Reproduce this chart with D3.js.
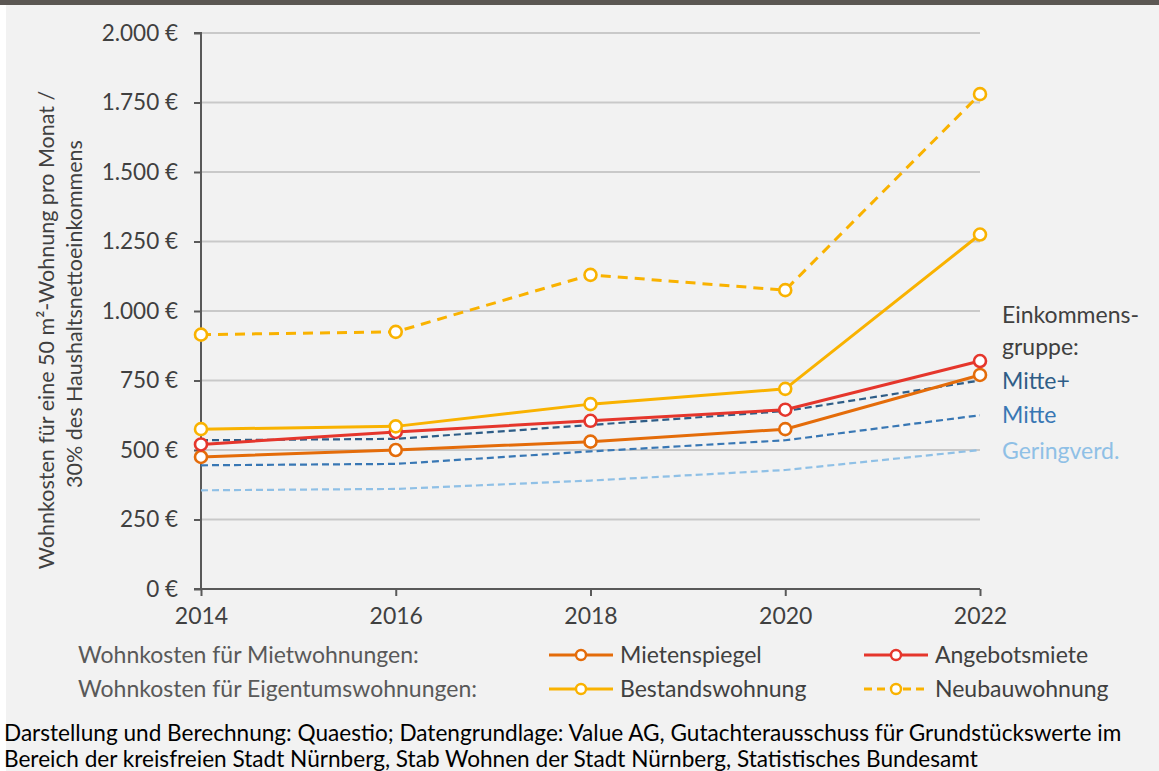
<!DOCTYPE html>
<html><head><meta charset="utf-8">
<script src="https://cdn.jsdelivr.net/npm/d3@7"></script>
<style>
html,body{margin:0;padding:0;background:#fff;}
svg{display:block;}
text{font-family:Lato,"Open Sans",sans-serif;}
</style></head>
<body>
<script>
const years = [2014, 2016, 2018, 2020, 2022];
const yTicks = [0, 250, 500, 750, 1000, 1250, 1500, 1750, 2000];
const neubauwohnung = [915, 925, 1130, 1075, 1780];
const bestandswohnung = [575, 585, 665, 720, 1275];
const angebotsmiete = [520, 565, 605, 645, 820];
const mietenspiegel = [475, 500, 530, 575, 770];
const mittePlus = [535, 540, 590, 640, 750];
const mitte = [445, 450, 495, 535, 625];
const geringverd = [355, 360, 390, 428, 500];
const incomeLabels = ["Mitte+", "Mitte", "Geringverd."];
const incomeTitle = ["Einkommens-", "gruppe:"];
const legendRows = ["Wohnkosten für Mietwohnungen:", "Wohnkosten für Eigentumswohnungen:"];
const yTitle = ["Wohnkosten für eine 50 m²-Wohnung pro Monat /", "30% des Haushaltsnettoeinkommens"];
const footnote = ["Darstellung und Berechnung: Quaestio; Datengrundlage: Value AG, Gutachterausschuss für Grundstückswerte im",
                  "Bereich der kreisfreien Stadt Nürnberg, Stab Wohnen der Stadt Nürnberg, Statistisches Bundesamt"];

const W = 1159, H = 771;
const FS = 23;
const svg = d3.select("body").append("svg").attr("width", W).attr("height", H);
svg.append("rect").attr("x", 0).attr("y", 0).attr("width", W).attr("height", H).attr("fill", "#ffffff");
svg.append("rect").attr("x", 6).attr("y", 0).attr("width", W - 6).attr("height", H).attr("fill", "#f2f2f2");
svg.append("rect").attr("x", 0).attr("y", 0).attr("width", W).attr("height", 5).attr("fill", "#5b5753");

const x = d3.scaleLinear().domain([2014, 2022]).range([201, 980]);
const y = d3.scaleLinear().domain([0, 2000]).range([589, 33]);

// gridlines
svg.append("g").selectAll("line").data(yTicks.filter(d => d > 0)).join("line")
  .attr("x1", 202).attr("x2", 980).attr("y1", d => y(d)).attr("y2", d => y(d))
  .attr("stroke", "#c9c9c9").attr("stroke-width", 2);

// y axis
const yAxis = d3.axisLeft(y).tickValues(yTicks).tickSize(7).tickPadding(16)
  .tickFormat(d => d3.format(",")(d).replace(/,/g, ".") + " €");
const gy = svg.append("g").attr("transform", "translate(201,0)").call(yAxis);
gy.select(".domain").attr("stroke", "#595959").attr("stroke-width", 2).attr("d", "M-7,33H0V589H-7");
gy.selectAll(".tick line").attr("stroke", "#595959").attr("stroke-width", 2);
gy.selectAll(".tick text").attr("font-size", 22.5).attr("fill", "#404040").attr("font-family", "Lato");

// x axis
const xAxis = d3.axisBottom(x).tickValues(years).tickSize(7).tickPadding(12).tickFormat(d3.format("d"));
const gx = svg.append("g").attr("transform", "translate(0,589)").call(xAxis);
gx.select(".domain").attr("stroke", "#595959").attr("stroke-width", 2).attr("d", "M201,0H980");
gx.selectAll(".tick line").attr("stroke", "#595959").attr("stroke-width", 2);
gx.selectAll(".tick text").attr("font-size", FS).attr("fill", "#404040").attr("font-family", "Lato");

// y title
svg.append("text").attr("transform", "translate(54,330) rotate(-90)").attr("text-anchor", "middle")
  .attr("font-size", 21.5).attr("fill", "#404040").text(yTitle[0]);
svg.append("text").attr("transform", "translate(82,314) rotate(-90)").attr("text-anchor", "middle")
  .attr("font-size", 21.5).attr("fill", "#404040").text(yTitle[1]);

const line = d3.line().x((d, i) => x(years[i])).y(d => y(d));

function drawDashed(vals, color) {
  svg.append("path").attr("d", line(vals)).attr("fill", "none").attr("stroke", color)
    .attr("stroke-width", 2.2).attr("stroke-dasharray", "7,4");
}
drawDashed(geringverd, "#8fc0e6");
drawDashed(mitte, "#3877b4");
drawDashed(mittePlus, "#2e5d87");

function drawSeries(vals, color, dashed) {
  svg.append("path").attr("d", line(vals)).attr("fill", "none").attr("stroke", color)
    .attr("stroke-width", 3).attr("stroke-dasharray", dashed ? "10,7" : null);
  svg.append("g").selectAll("circle").data(vals).join("circle")
    .attr("cx", (d, i) => x(years[i])).attr("cy", d => y(d)).attr("r", 6)
    .attr("fill", "#ffffff").attr("stroke", color).attr("stroke-width", 2.6);
}
const cOrange = "#e46c0a", cRed = "#e5362c", cAmber = "#f9b200";
drawSeries(mietenspiegel, cOrange, false);
drawSeries(angebotsmiete, cRed, false);
drawSeries(bestandswohnung, cAmber, false);
drawSeries(neubauwohnung, cAmber, true);

// right-side income labels
svg.append("text").attr("x", 1002).attr("y", 323).attr("font-size", FS).attr("fill", "#404040").text(incomeTitle[0]);
svg.append("text").attr("x", 1002).attr("y", 355).attr("font-size", FS).attr("fill", "#404040").text(incomeTitle[1]);
const incomeColors = ["#2e5d87", "#3877b4", "#8fc0e6"];
const incomeY = [389, 423, 459];
incomeLabels.forEach((t, i) => {
  svg.append("text").attr("x", 1002).attr("y", incomeY[i]).attr("font-size", FS).attr("fill", incomeColors[i]).text(t);
});

// legend
const rowY = [655, 689];
legendRows.forEach((t, i) => {
  svg.append("text").attr("x", 78).attr("y", rowY[i] + 8).attr("font-size", FS).attr("fill", "#595959").text(t);
});
const legendItems = [
  {name: "Mietenspiegel", color: cOrange, dashed: false, x: 549, row: 0},
  {name: "Angebotsmiete", color: cRed, dashed: false, x: 864, row: 0},
  {name: "Bestandswohnung", color: cAmber, dashed: false, x: 549, row: 1},
  {name: "Neubauwohnung", color: cAmber, dashed: true, x: 864, row: 1}
];
legendItems.forEach(it => {
  const cy = rowY[it.row];
  svg.append("line").attr("x1", it.x).attr("x2", it.x + 64).attr("y1", cy).attr("y2", cy)
    .attr("stroke", it.color).attr("stroke-width", 3).attr("stroke-dasharray", it.dashed ? "8,5" : null);
  svg.append("circle").attr("cx", it.x + 32).attr("cy", cy).attr("r", 5)
    .attr("fill", "#ffffff").attr("stroke", it.color).attr("stroke-width", 2.4);
  svg.append("text").attr("x", it.x + 71).attr("y", cy + 8).attr("font-size", FS).attr("fill", "#404040").text(it.name);
});

// footnote
footnote.forEach((t, i) => {
  svg.append("text").attr("x", 4).attr("y", 741 + i * 26).attr("font-size", 22.6).attr("fill", "#000000").text(t);
});
</script>
</body></html>
